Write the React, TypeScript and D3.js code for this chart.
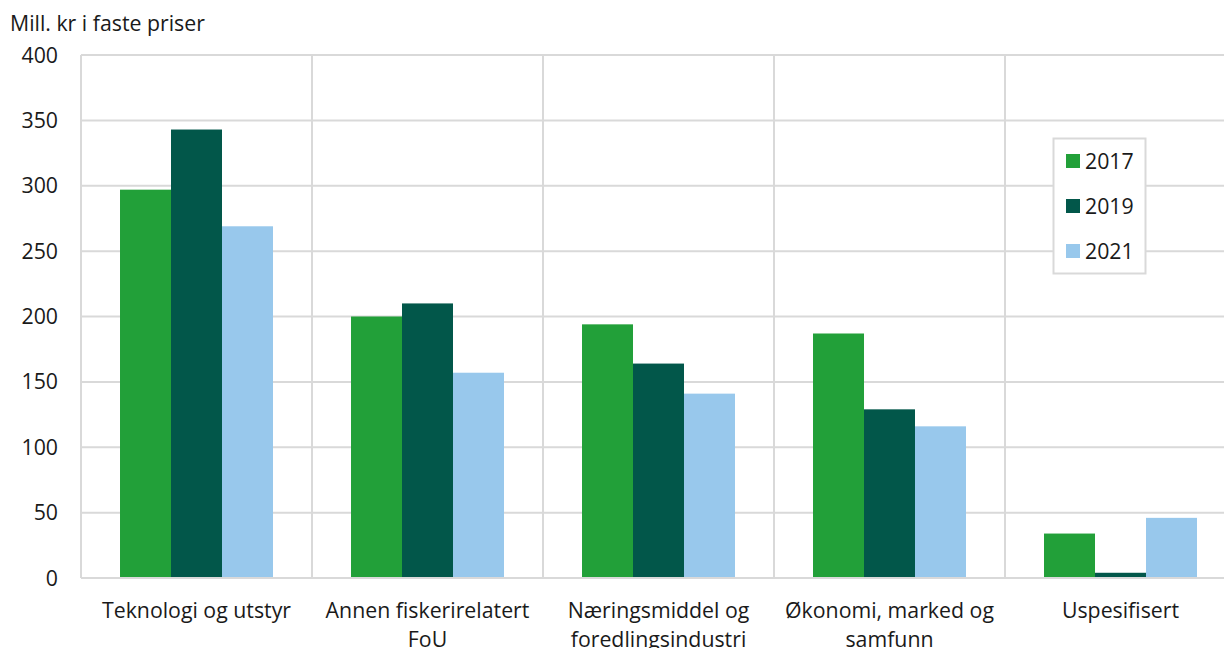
import React from "react";
import * as d3 from "d3";

const categories = [
  "Teknologi og utstyr",
  "Annen fiskerirelatert FoU",
  "Næringsmiddel og foredlingsindustri",
  "Økonomi, marked og samfunn",
  "Uspesifisert",
];
const categoryLines = [
  ["Teknologi og utstyr"],
  ["Annen fiskerirelatert", "FoU"],
  ["Næringsmiddel og", "foredlingsindustri"],
  ["Økonomi, marked og", "samfunn"],
  ["Uspesifisert"],
];
const years = ["2017", "2019", "2021"];
const values2017 = [297, 200, 194, 187, 34];
const values2019 = [343, 210, 164, 129, 4];
const values2021 = [269, 157, 141, 116, 46];
const yTicks = [0, 50, 100, 150, 200, 250, 300, 350, 400];
const colors = ["#22a039", "#02574a", "#98c8ec"];

export default function App() {
  const W = 1224, H = 648;
  const left = 81, right = 1236, top = 55, bottom = 578;
  const font = "'Open Sans', 'Noto Sans', sans-serif";
  const fs = 21.3;
  const x = d3.scaleBand().domain(categories).range([left, right]).paddingInner(0).paddingOuter(0);
  const inner = d3.scaleBand().domain(years).range([0, x.bandwidth()]).paddingInner(0).paddingOuter(0.765);
  const y = d3.scaleLinear().domain([0, 400]).range([bottom, top]);
  const series = [values2017, values2019, values2021];
  const grid = "#d9d9d9";
  return (
    <svg width={W} height={H} style={{ position: "absolute", left: 0, top: 0, background: "#fff" }} fontFamily={font}>
      <text x={10} y={31} fontSize={fs} fill="#1a1a1a">Mill. kr i faste priser</text>
      {yTicks.map((t) => (
        <g key={t}>
          <line x1={left} x2={right} y1={y(t)} y2={y(t)} stroke={grid} strokeWidth={2} />
          <text x={58} y={y(t) + 7.5} fontSize={fs} textAnchor="end" fill="#1a1a1a">{t}</text>
        </g>
      ))}
      {categories.map((c) => (
        <line key={c} x1={x(c)} x2={x(c)} y1={top} y2={bottom} stroke={grid} strokeWidth={2} />
      ))}
      {categories.map((c, i) =>
        years.map((yr, j) => (
          <rect key={c + yr} x={(x(c) as number) + (inner(yr) as number)} y={y(series[j][i])}
            width={inner.bandwidth()} height={bottom - y(series[j][i])} fill={colors[j]} />
        ))
      )}
      <line x1={left} x2={right} y1={bottom} y2={bottom} stroke={grid} strokeWidth={2} />
      {categories.map((c, i) => (
        <text key={c} x={(x(c) as number) + x.bandwidth() / 2} y={618} fontSize={fs} textAnchor="middle" fill="#1a1a1a">
          {categoryLines[i].map((l, k) => (
            <tspan key={k} x={(x(c) as number) + x.bandwidth() / 2} dy={k === 0 ? 0 : 29}>{l}</tspan>
          ))}
        </text>
      ))}
      <g>
        <rect x={1053.5} y={138.5} width={92} height={135} fill="#fff" stroke={grid} strokeWidth={2} />
        {years.map((yr, j) => (
          <g key={yr}>
            <rect x={1066} y={154 + j * 45} width={14} height={14} fill={colors[j]} />
            <text x={1085} y={169 + j * 45} fontSize={fs} fill="#1a1a1a">{yr}</text>
          </g>
        ))}
      </g>
    </svg>
  );
}
